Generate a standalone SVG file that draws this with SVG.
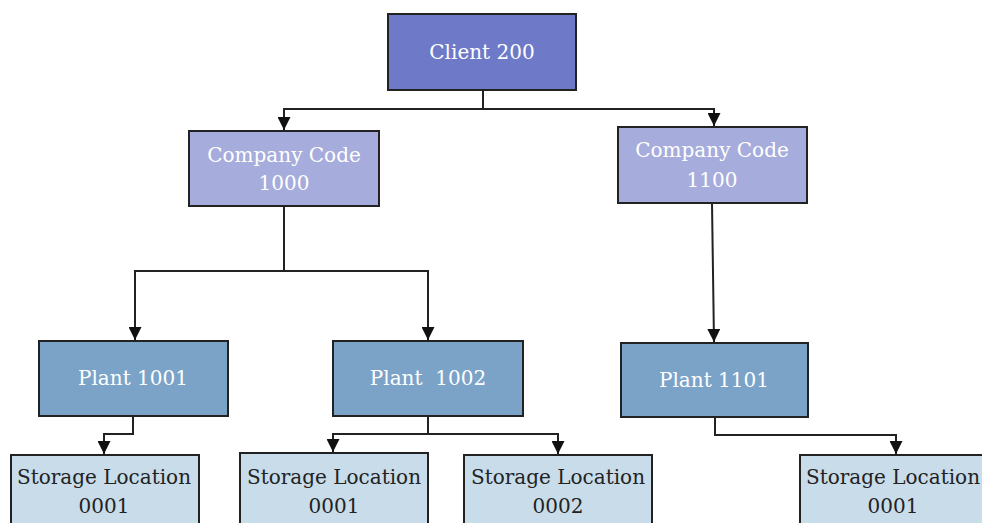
<svg xmlns="http://www.w3.org/2000/svg" width="982" height="523" viewBox="0 0 982 523">
<defs>
<marker id="arr" viewBox="0 0 13 13" refX="13" refY="6.5" markerWidth="13" markerHeight="13" markerUnits="userSpaceOnUse" orient="auto">
<path d="M0,0 L13,6.5 L0,13 Z" fill="#111"/>
</marker>
<style>
.box{stroke:#222;stroke-width:2}
.l1{fill:#6e7ac8}
.l2{fill:#a6acdc}
.l3{fill:#7ba3c8}
.l4{fill:#c9dcea}
.tw{font-family:"DejaVu Serif","Liberation Serif",serif;font-size:20px;fill:#fff;text-anchor:middle}
.td{font-family:"DejaVu Serif","Liberation Serif",serif;font-size:20px;fill:#222;text-anchor:middle}
.c{fill:none;stroke:#222;stroke-width:2}
</style>
</defs>
<rect width="982" height="523" fill="#fff"/>
<g id="connectors">
<path class="c" d="M483,90 V109 H284 V130" marker-end="url(#arr)"/>
<path class="c" d="M483,109 H714 V126" marker-end="url(#arr)"/>
<path class="c" d="M284,206 V271 H135 V340" marker-end="url(#arr)"/>
<path class="c" d="M284,271 H428 V340" marker-end="url(#arr)"/>
<path class="c" d="M712,203 L714,342" marker-end="url(#arr)"/>
<path class="c" d="M133,416 V434 H104 V454" marker-end="url(#arr)"/>
<path class="c" d="M428,416 V434 H333 V452" marker-end="url(#arr)"/>
<path class="c" d="M428,434 H558 V454" marker-end="url(#arr)"/>
<path class="c" d="M715,417 V435 H896 V454" marker-end="url(#arr)"/>
</g>
<g id="client200">
<rect class="box l1" x="388" y="14" width="188" height="76"/>
<text class="tw" x="482" y="59">Client 200</text>
</g>
<g id="cc1000">
<rect class="box l2" x="189" y="131" width="190" height="75"/>
<text class="tw" x="284" y="162">Company Code</text>
<text class="tw" x="284" y="190">1000</text>
</g>
<g id="cc1100">
<rect class="box l2" x="618" y="127" width="189" height="76"/>
<text class="tw" x="712" y="157">Company Code</text>
<text class="tw" x="712" y="187">1100</text>
</g>
<g id="plant1001">
<rect class="box l3" x="39" y="341" width="189" height="75"/>
<text class="tw" x="133" y="385">Plant 1001</text>
</g>
<g id="plant1002">
<rect class="box l3" x="333" y="341" width="190" height="75"/>
<text class="tw" x="428" y="385" xml:space="preserve">Plant  1002</text>
</g>
<g id="plant1101">
<rect class="box l3" x="621" y="343" width="187" height="74"/>
<text class="tw" x="714" y="387">Plant 1101</text>
</g>
<g id="sl1001">
<rect class="box l4" x="11" y="455" width="188" height="80"/>
<text class="td" x="104" y="484">Storage Location</text>
<text class="td" x="104" y="513">0001</text>
</g>
<g id="sl1002a">
<rect class="box l4" x="240" y="453" width="188" height="82"/>
<text class="td" x="334" y="484">Storage Location</text>
<text class="td" x="334" y="513">0001</text>
</g>
<g id="sl1002b">
<rect class="box l4" x="464" y="455" width="188" height="80"/>
<text class="td" x="558" y="484">Storage Location</text>
<text class="td" x="558" y="513">0002</text>
</g>
<g id="sl1101">
<rect class="box l4" x="800" y="455" width="186" height="80"/>
<text class="td" x="893" y="484">Storage Location</text>
<text class="td" x="893" y="513">0001</text>
</g>
</svg>
